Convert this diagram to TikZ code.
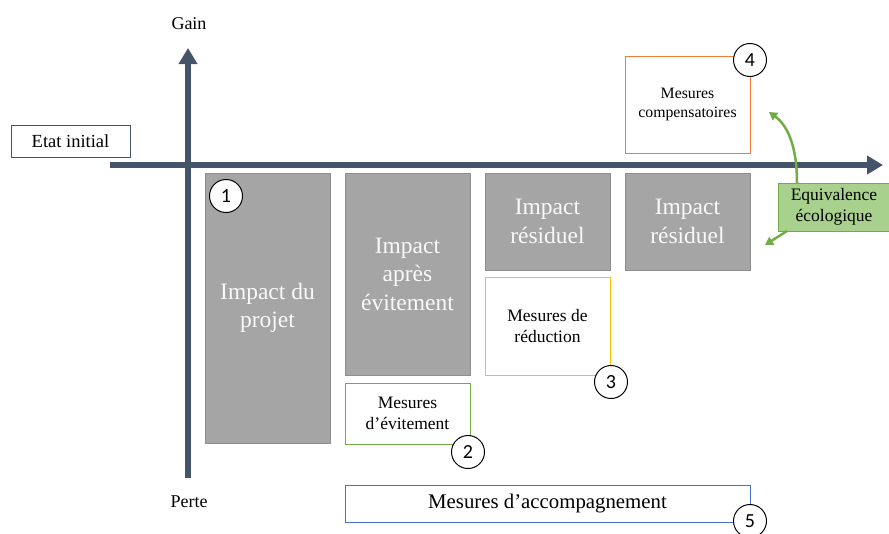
\documentclass[tikz,border=0pt]{standalone}
\usepackage{fontspec}
\setmainfont{Liberation Serif}
\newfontfamily\numfont{Carlito}
\usetikzlibrary{arrows.meta}
\definecolor{axis}{HTML}{44546A}
\definecolor{gfill}{HTML}{A5A5A5}
\definecolor{gline}{HTML}{8E8E8E}
\definecolor{vert}{HTML}{70AD47}
\definecolor{vertf}{HTML}{A9D18E}
\definecolor{jaune}{HTML}{FFC000}
\definecolor{orange}{HTML}{ED7D31}
\definecolor{bleu}{HTML}{4472C4}
\tikzset{
  grayblk/.style={draw=gline, fill=gfill, line width=1pt, text=white!95!gray, align=center, font=\fontsize{23.5}{28.5}\selectfont},
  mbox/.style={draw, fill=white, line width=1pt, align=center, font=\fontsize{17.5}{21.5}\selectfont},
  num/.style={circle, draw=black, fill=white, line width=1pt, minimum size=33pt, inner sep=0pt, font=\numfont\fontsize{20}{20}\selectfont},
  axisline/.style={axis, line width=5.5pt, -{Triangle[length=16pt,width=18pt]}},
  lbl/.style={font=\fontsize{18}{20}\selectfont},
}
\begin{document}
\begin{tikzpicture}[x=1pt,y=-1pt]
\useasboundingbox (0,0) rectangle (889,533);
% axes
\coordinate (vstart) at (188,478);
\coordinate (vend) at (188,48);
\coordinate (hstart) at (110,165);
\coordinate (hend) at (883,165);
\draw[axisline] (hstart) -- (hend);
\draw[axisline] (vstart) -- (vend);
\node[lbl] (gain) at (189,24) {Gain};
\node[lbl] (perte) at (189,502) {Perte};
\node[mbox, draw=axis, minimum width=119pt, minimum height=32pt, inner sep=0pt, font=\fontsize{18.5}{22}\selectfont] (etat) at (70.5,141) {Etat initial};
% gray blocks
\node[grayblk, minimum width=125pt, minimum height=270pt, inner sep=0pt] (b1) at (267.5,308) {Impact du\\projet};
\node[grayblk, minimum width=125pt, minimum height=202pt, inner sep=0pt] (b2) at (407.5,274) {Impact\\après\\évitement};
\node[grayblk, minimum width=125pt, minimum height=97pt, inner sep=0pt] (b3) at (547.5,221.5) {Impact\\résiduel};
\node[grayblk, minimum width=125pt, minimum height=97pt, inner sep=0pt] (b4) at (687.5,221.5) {Impact\\résiduel};
% measure boxes
\node[mbox, draw=vert, minimum width=125pt, minimum height=61pt, inner sep=0pt] (m2) at (407.5,413.5) {Mesures\\d’évitement};
\node[mbox, draw=jaune, minimum width=125pt, minimum height=98pt, inner sep=0pt] (m3) at (547.5,326) {Mesures de\\réduction};
\node[mbox, draw=orange, minimum width=125pt, minimum height=97pt, inner sep=0pt, font=\fontsize{15.8}{18.5}\selectfont] (m4) at (687.5,104.5) {Mesures\\compensatoires};
\node[mbox, draw=bleu, minimum width=405pt, minimum height=37pt, inner sep=0pt, font=\fontsize{20.8}{24}\selectfont] (m5) at (547.5,503.5) {Mesures d’accompagnement};
\node[draw=vert, fill=vertf, line width=1pt, minimum width=112pt, minimum height=48pt, inner sep=0pt, align=center, font=\fontsize{17.5}{21}\selectfont] (eq) at (834,207) {Equivalence\\écologique};
% numbers
\node[num] (n1) at (226,196) {1};
\node[num] (n2) at (468,452) {2};
\node[num] (n3) at (611,382) {3};
\node[num] (n4) at (750,60) {4};
\node[num] (n5) at (750,521) {5};
% green arrows
\coordinate (up) at (769,112);
\coordinate (down) at (765,245);
\draw[vert, line width=2.5pt, -{Triangle[length=8pt,width=9pt]}] (797,183) .. controls (797,145) and (787,125) .. (up);
\draw[vert, line width=2.5pt, -{Triangle[length=8pt,width=9pt]}] (787,231) -- (down);
\end{tikzpicture}
\end{document}
